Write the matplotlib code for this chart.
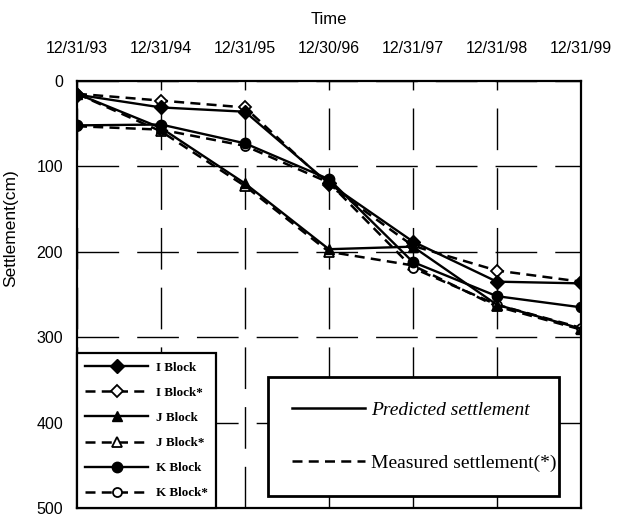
"""
Settlement vs time chart
预测沉降与实测沉降对比
"""

import matplotlib
matplotlib.use('Agg')
import matplotlib.pyplot as plt
from matplotlib.lines import Line2D

plt.rcParams['font.family'] = ['Liberation Sans', 'DejaVu Sans']

# 数据
dates = ['12/31/93', '12/31/94', '12/31/95', '12/30/96', '12/31/97', '12/31/98', '12/31/99']

i_pred = [16, 31, 36, 120, 188, 235, 237]
i_meas = [15, 23, 31, 122, 193, 222, 235]
j_pred = [15, 55, 120, 197, 194, 262, 290]
j_meas = [15, 59, 123, 200, 216, 264, 291]
k_pred = [52, 51, 73, 115, 212, 252, 265]
k_meas = [53, 57, 76, 119, 219, 262, 289]

series = [
    ('I Block', i_pred, 'D', '-'),
    ('I Block*', i_meas, 'D', '--'),
    ('J Block', j_pred, '^', '-'),
    ('J Block*', j_meas, '^', '--'),
    ('K Block', k_pred, 'o', '-'),
    ('K Block*', k_meas, 'o', '--'),
]

fig = plt.figure(figsize=(6.22, 5.21), dpi=100)
ax = fig.add_axes([0.1238, 0.025, 0.810, 0.8196])

x = list(range(len(dates)))

# 先画实测（虚线），再画预测（实线）
handles = {}
for name, vals, marker, ls in sorted(series, key=lambda s: s[3] == '-'):
    if ls == '--':
        h, = ax.plot(x, vals, color='black', linestyle=(0, (4, 2.5)), linewidth=1.8,
                     marker=marker, markersize=6.5, markerfacecolor='white',
                     markeredgecolor='black', markeredgewidth=1.3, zorder=3)
    else:
        h, = ax.plot(x, vals, color='black', linestyle='-', linewidth=1.7,
                     marker=marker, markersize=7.5, markerfacecolor='black',
                     markeredgecolor='black', zorder=4)
    handles[name] = h

# 坐标轴
ax.set_xlim(0, len(dates) - 1)
ax.set_ylim(500, 0)
ax.set_yticks([0, 100, 200, 300, 400, 500])
ax.set_xticks(x)
ax.set_xticklabels(dates)
ax.xaxis.tick_top()
ax.xaxis.set_label_position('top')
ax.tick_params(axis='both', length=0, labelsize=11.5)
ax.tick_params(axis='x', pad=18)
ax.tick_params(axis='y', pad=10)
ax.set_xlabel('Time', fontsize=12, labelpad=12)
ax.set_ylabel('Settlement(cm)', fontsize=12.5)
ax.yaxis.set_label_coords(-0.117, 0.656)

# 网格（长虚线）
ax.grid(True, color='black', linestyle=(0, (30, 13)), linewidth=1.0)
for sp in ax.spines.values():
    sp.set_linewidth(1.6)

# 图例1：各区块
leg1 = ax.legend([handles[s[0]] for s in series], [s[0] for s in series],
                 loc='lower left', bbox_to_anchor=(0, 0), borderaxespad=0,
                 prop={'family': 'Liberation Serif', 'weight': 'bold', 'size': 9.4},
                 handlelength=4.8, handletextpad=0.6, labelspacing=1.0,
                 borderpad=0.65, frameon=True, fancybox=False, framealpha=1,
                 edgecolor='black')
leg1.get_frame().set_linewidth(1.6)
ax.add_artist(leg1)

# 图例2：预测/实测
proxy = [Line2D([], [], color='black', linestyle='-', linewidth=1.8),
         Line2D([], [], color='black', linestyle=(0, (4, 2.5)), linewidth=1.8)]
leg2 = ax.legend(proxy, ['Predicted settlement', 'Measured settlement(*)'],
                 loc='center', bbox_to_anchor=(0.379, 0.026, 0.577, 0.283),
                 borderaxespad=0,
                 prop={'family': 'Liberation Serif', 'size': 14},
                 handlelength=3.75, handletextpad=0.3, labelspacing=1.8,
                 borderpad=1.25, frameon=True, fancybox=False, framealpha=1,
                 edgecolor='black', mode='expand')
leg2.get_frame().set_linewidth(2.0)
leg2.get_texts()[0].set_fontstyle('italic')

fig.savefig('out.png', dpi=100)
